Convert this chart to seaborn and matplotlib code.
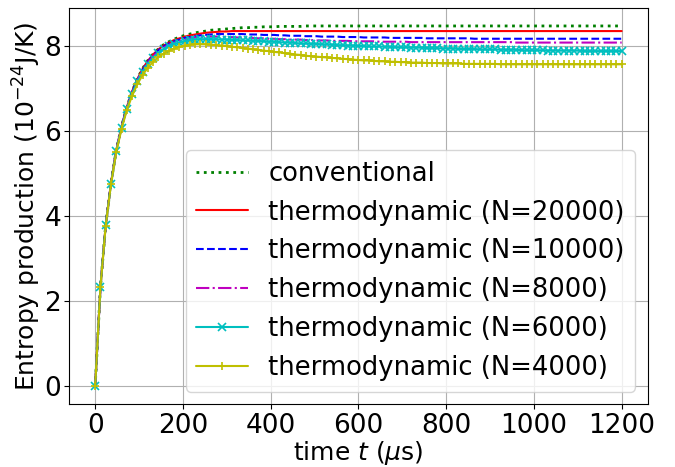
import matplotlib
matplotlib.use("Agg")
import matplotlib.pyplot as plt
import seaborn as sns
import numpy as np
import pandas as pd

# time axis (microseconds), sampled every 12 us
t_us = list(range(0, 1201, 12))

conventional = [
    0.00, 2.33, 3.79, 4.77, 5.54, 6.10, 6.55, 6.92, 7.22, 7.46, 7.65, 7.80, 7.92, 8.02, 8.09,
    8.15, 8.20, 8.24, 8.27, 8.30, 8.32, 8.34, 8.36, 8.37, 8.38, 8.39, 8.40, 8.41, 8.42, 8.42,
    8.43, 8.43, 8.44, 8.44, 8.44, 8.45, 8.45, 8.45, 8.45, 8.45, 8.46, 8.46, 8.46, 8.46, 8.46,
    8.46, 8.46, 8.46, 8.46, 8.46, 8.46, 8.46, 8.46, 8.46, 8.46, 8.46, 8.46, 8.46, 8.46, 8.46,
    8.46, 8.46, 8.46, 8.46, 8.46, 8.46, 8.46, 8.46, 8.46, 8.46, 8.46, 8.46, 8.46, 8.46, 8.46,
    8.46, 8.46, 8.46, 8.46, 8.46, 8.46, 8.46, 8.46, 8.46, 8.46, 8.46, 8.46, 8.46, 8.46, 8.46,
    8.46, 8.46, 8.46, 8.46, 8.46, 8.46, 8.46, 8.46, 8.46, 8.46, 8.46,
]

thermo_20000 = [
    0.00, 2.33, 3.79, 4.77, 5.54, 6.10, 6.55, 6.92, 7.21, 7.45, 7.64, 7.79, 7.91, 8.00, 8.07,
    8.13, 8.17, 8.21, 8.24, 8.26, 8.28, 8.30, 8.31, 8.32, 8.33, 8.33, 8.34, 8.34, 8.34, 8.34,
    8.34, 8.34, 8.34, 8.34, 8.34, 8.34, 8.34, 8.34, 8.34, 8.34, 8.34, 8.34, 8.34, 8.34, 8.34,
    8.34, 8.34, 8.34, 8.34, 8.34, 8.34, 8.34, 8.34, 8.34, 8.34, 8.34, 8.34, 8.34, 8.34, 8.34,
    8.34, 8.34, 8.34, 8.34, 8.34, 8.34, 8.34, 8.34, 8.34, 8.34, 8.34, 8.34, 8.34, 8.34, 8.34,
    8.34, 8.34, 8.34, 8.34, 8.34, 8.34, 8.34, 8.34, 8.34, 8.34, 8.34, 8.34, 8.34, 8.34, 8.34,
    8.34, 8.34, 8.34, 8.34, 8.34, 8.34, 8.34, 8.34, 8.34, 8.34, 8.34,
]

thermo_10000 = [
    0.00, 2.33, 3.79, 4.76, 5.53, 6.09, 6.54, 6.90, 7.19, 7.43, 7.62, 7.77, 7.89, 7.98, 8.05,
    8.10, 8.14, 8.18, 8.20, 8.22, 8.24, 8.25, 8.26, 8.27, 8.27, 8.27, 8.27, 8.27, 8.27, 8.26,
    8.26, 8.26, 8.25, 8.25, 8.25, 8.24, 8.24, 8.23, 8.23, 8.23, 8.22, 8.22, 8.22, 8.21, 8.21,
    8.21, 8.21, 8.20, 8.20, 8.20, 8.20, 8.19, 8.19, 8.19, 8.19, 8.19, 8.18, 8.18, 8.18, 8.18,
    8.18, 8.18, 8.18, 8.17, 8.17, 8.17, 8.17, 8.17, 8.17, 8.17, 8.17, 8.17, 8.16, 8.16, 8.16,
    8.16, 8.16, 8.16, 8.16, 8.16, 8.16, 8.16, 8.16, 8.16, 8.16, 8.16, 8.16, 8.16, 8.16, 8.16,
    8.16, 8.16, 8.16, 8.16, 8.16, 8.16, 8.16, 8.16, 8.16, 8.16, 8.16,
]

thermo_8000 = [
    0.00, 2.33, 3.78, 4.76, 5.53, 6.08, 6.53, 6.89, 7.18, 7.42, 7.60, 7.75, 7.86, 7.95, 8.02,
    8.07, 8.11, 8.14, 8.17, 8.19, 8.20, 8.21, 8.21, 8.21, 8.21, 8.20, 8.20, 8.19, 8.19, 8.18,
    8.18, 8.17, 8.17, 8.16, 8.16, 8.15, 8.15, 8.14, 8.14, 8.14, 8.13, 8.13, 8.12, 8.12, 8.12,
    8.11, 8.11, 8.11, 8.11, 8.10, 8.10, 8.10, 8.10, 8.10, 8.09, 8.09, 8.09, 8.09, 8.09, 8.09,
    8.08, 8.08, 8.08, 8.08, 8.08, 8.08, 8.08, 8.08, 8.08, 8.08, 8.08, 8.08, 8.08, 8.08, 8.08,
    8.08, 8.08, 8.08, 8.08, 8.08, 8.07, 8.07, 8.07, 8.07, 8.07, 8.07, 8.07, 8.07, 8.07, 8.07,
    8.07, 8.07, 8.07, 8.07, 8.07, 8.07, 8.07, 8.07, 8.07, 8.07, 8.07,
]

thermo_6000 = [
    0.00, 2.33, 3.78, 4.75, 5.52, 6.07, 6.52, 6.87, 7.16, 7.39, 7.57, 7.71, 7.82, 7.91, 7.98,
    8.03, 8.07, 8.10, 8.12, 8.14, 8.15, 8.15, 8.15, 8.15, 8.14, 8.14, 8.13, 8.13, 8.12, 8.12,
    8.11, 8.11, 8.10, 8.09, 8.09, 8.08, 8.07, 8.07, 8.06, 8.05, 8.05, 8.04, 8.04, 8.03, 8.03,
    8.02, 8.01, 8.01, 8.00, 8.00, 7.99, 7.99, 7.98, 7.98, 7.98, 7.97, 7.97, 7.96, 7.96, 7.96,
    7.95, 7.95, 7.95, 7.94, 7.94, 7.94, 7.93, 7.93, 7.93, 7.92, 7.92, 7.92, 7.92, 7.91, 7.91,
    7.91, 7.91, 7.90, 7.90, 7.90, 7.90, 7.89, 7.89, 7.89, 7.89, 7.89, 7.88, 7.88, 7.88, 7.88,
    7.88, 7.88, 7.88, 7.87, 7.87, 7.87, 7.87, 7.87, 7.87, 7.87, 7.87,
]

thermo_4000 = [
    0.00, 2.33, 3.77, 4.74, 5.50, 6.04, 6.48, 6.82, 7.09, 7.31, 7.48, 7.62, 7.73, 7.81, 7.88,
    7.93, 7.97, 8.00, 8.02, 8.03, 8.03, 8.03, 8.02, 8.01, 8.00, 7.99, 7.97, 7.96, 7.94, 7.93,
    7.91, 7.90, 7.88, 7.87, 7.85, 7.84, 7.82, 7.81, 7.79, 7.78, 7.76, 7.75, 7.74, 7.73, 7.72,
    7.71, 7.70, 7.69, 7.68, 7.67, 7.66, 7.65, 7.65, 7.64, 7.63, 7.63, 7.62, 7.62, 7.61, 7.61,
    7.60, 7.60, 7.60, 7.59, 7.59, 7.59, 7.58, 7.58, 7.58, 7.58, 7.57, 7.57, 7.57, 7.57, 7.57,
    7.57, 7.57, 7.56, 7.56, 7.56, 7.56, 7.56, 7.56, 7.56, 7.56, 7.56, 7.56, 7.56, 7.56, 7.56,
    7.56, 7.56, 7.56, 7.56, 7.56, 7.56, 7.56, 7.56, 7.56, 7.56, 7.56,
]

labels = [
    "conventional",
    "thermodynamic (N=20000)",
    "thermodynamic (N=10000)",
    "thermodynamic (N=8000)",
    "thermodynamic (N=6000)",
    "thermodynamic (N=4000)",
]
series = [conventional, thermo_20000, thermo_10000, thermo_8000, thermo_6000, thermo_4000]
colors = ["#008000", "#ff0000", "#0000ff", "#bf00bf", "#00bfbf", "#bfbf00"]
linestyles = [":", "-", "--", "-.", "-", "-"]
markers = [None, None, None, None, "x", "+"]
linewidths = [2.0, 1.5, 1.5, 1.5, 1.5, 1.5]

sns.set_theme(style="ticks", rc={"axes.grid": True})
plt.rcParams["font.family"] = ["DejaVu Sans"]
plt.rcParams.update({
    "grid.color": "#b0b0b0",
    "grid.linewidth": 0.8,
    "axes.edgecolor": "black",
    "axes.linewidth": 0.8,
    "text.color": "black",
    "axes.labelcolor": "black",
    "xtick.color": "black",
    "ytick.color": "black",
    "xtick.labelcolor": "black",
    "ytick.labelcolor": "black",
    "xtick.major.size": 3.5,
    "ytick.major.size": 3.5,
    "xtick.major.width": 0.8,
    "ytick.major.width": 0.8,
    "xtick.major.pad": 2.5,
    "ytick.major.pad": 2.0,
    "xtick.labelsize": 19,
    "ytick.labelsize": 19,
    "axes.labelsize": 19,
    "legend.fontsize": 18.6,
    "mathtext.fontset": "dejavusans",
})

fig = plt.figure(figsize=(6.75, 4.67), dpi=100)
ax = fig.add_axes([0.102, 0.134, 0.858, 0.849])

for y, lab, c, ls, mk, lw in zip(series, labels, colors, linestyles, markers, linewidths):
    df = pd.DataFrame({"t": t_us, "S": y})
    kw = {}
    if mk is not None:
        kw["marker"] = mk
        kw["markersize"] = 6
        kw["markeredgewidth"] = 1.2
        kw["markeredgecolor"] = c
        kw["markerfacecolor"] = c
    sns.lineplot(data=df, x="t", y="S", ax=ax, color=c, linestyle=ls,
                 linewidth=lw, label=lab, **kw)

ax.set_xticks([0, 200, 400, 600, 800, 1000, 1200])
ax.set_yticks([0, 2, 4, 6, 8])
ax.set_xlabel(r"time $t$ ($\mu$s)", fontsize=18, labelpad=0)
ax.set_ylabel(r"Entropy production ($10^{-24}$J/K)", fontsize=18, labelpad=1)

leg = ax.legend(loc="lower right", frameon=True, fancybox=True, framealpha=0.8)
leg.get_frame().set_edgecolor("#cccccc")
for txt in leg.get_texts():
    txt.set_color("black")

fig.savefig("out.png", dpi=100)
